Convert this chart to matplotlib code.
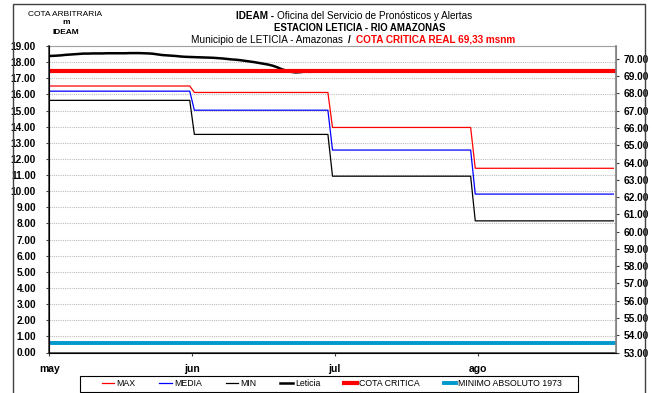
import numpy as np
import matplotlib
matplotlib.use("Agg")
import matplotlib.pyplot as plt
from matplotlib.patches import Rectangle

NARROW = ["Liberation Sans Narrow", "Liberation Sans", "DejaVu Sans"]
plt.rcParams["font.family"] = ["Liberation Sans", "DejaVu Sans"]

# monthly reference levels (may, jun, jul, ago), cota arbitraria
month_days = [31, 30, 31, 31]
month_labels = ["may", "jun", "jul", "ago"]
nivel_max = [16.52, 16.12, 13.95, 11.42]
nivel_media = [16.20, 15.02, 12.55, 9.82]
nivel_min = [15.63, 13.52, 10.93, 8.16]

# daily levels observed at Leticia from 1 May
leticia = [18.38, 18.40, 18.42, 18.45, 18.47, 18.49, 18.51, 18.53, 18.53, 18.54,
           18.54, 18.54, 18.55, 18.55, 18.55, 18.55, 18.55, 18.56, 18.56, 18.56,
           18.55, 18.54, 18.52, 18.48, 18.44, 18.42, 18.40, 18.38, 18.35, 18.33,
           18.32, 18.31, 18.30, 18.29, 18.28, 18.27, 18.25, 18.23, 18.20, 18.17,
           18.15, 18.12, 18.08, 18.04, 18.00, 17.95, 17.90, 17.85, 17.78, 17.68,
           17.56, 17.47, 17.40, 17.36, 17.38, 17.41, 17.40]

cota_critica = 69.33      # msnm, right axis
minimo_1973 = 0.60        # cota arbitraria

n_days = sum(month_days)
# each day drawn at its midpoint, first point pinned to the axis
dias = np.arange(n_days) + 0.5
dias[0] = 0
tick_pos = [0, 31, 62, 93]

fig = plt.figure(figsize=(6.53, 3.93), dpi=100)
ax = fig.add_axes([49.3 / 653, 1 - 352.5 / 393, (615.7 - 49.3) / 653, (352.5 - 46) / 393])
ax2 = ax.twinx()

ax.plot(dias, np.repeat(nivel_max, month_days), color="#ff0000", lw=0.9, label="MAX")
ax.plot(dias, np.repeat(nivel_media, month_days), color="#0000ff", lw=0.9, label="MEDIA")
ax.plot(dias, np.repeat(nivel_min, month_days), color="black", lw=0.9, label="MIN")
ax.plot(dias[:len(leticia)], leticia, color="black", lw=1.8, label="Leticia")
ax2.plot([0, n_days], [cota_critica, cota_critica], color="#ff0000", lw=3.0, label="COTA CRITICA")
ax.plot([0, n_days], [minimo_1973, minimo_1973], color="#0099cc", lw=2.8,
        label="MINIMO ABSOLUTO 1973")

ax.set_xlim(0, 123)
ax.set_ylim(0, 19)
ax2.set_ylim(53, 70.75)
ax.set_yticks(np.arange(0, 20, 1))
ax.set_yticklabels([f"{v:.2f}" for v in range(20)])
ax2.set_yticks(np.arange(53, 71, 1))
ax2.set_yticklabels([f"{v:.2f}" for v in range(53, 71)])
ax.set_xticks(tick_pos)
ax.set_xticklabels(month_labels)

ax.grid(axis="y", color="#bdbdbd", linestyle=(0, (1, 1)), lw=0.8)
for a in (ax, ax2):
    a.tick_params(labelsize=7.3, length=2.5, width=0.8, colors="#404040")
    for lab in a.get_yticklabels() + a.get_xticklabels():
        lab.set_fontweight("bold")
        lab.set_color("black")
ax.tick_params(axis="x", labelsize=7.5, pad=6)
ax.tick_params(axis="y", pad=7)
ax2.tick_params(axis="y", pad=3)
for s in ("top", "right"):
    ax.spines[s].set_color("#a0a0a0")
ax2.spines["top"].set_visible(False)
ax2.spines["right"].set_color("#808080")
ax2.spines["right"].set_linewidth(1.2)
ax.spines["left"].set_color("#404040")
ax.spines["left"].set_linewidth(1.2)
ax.spines["bottom"].set_color("#404040")
ax.spines["bottom"].set_linewidth(1.2)

# outer frame
fig.patches.append(Rectangle((13 / 653, -0.01), (645 - 13) / 653, 1 - 4 / 393 + 0.01,
                             transform=fig.transFigure, fill=False, ec="#404040", lw=1.0))

# left header
fig.text(65 / 653, 1 - 14 / 393, "COTA ARBITRARIA", ha="center", va="center",
         fontsize=6, family=NARROW)
fig.text(66 / 653, 1 - 23 / 393, "m", ha="center", va="center", fontsize=6,
         fontweight="bold", family=NARROW)
fig.text(66 / 653, 1 - 33 / 393, "IDEAM", ha="center", va="center", fontsize=6,
         fontweight="bold", family=NARROW)

fig.canvas.draw()
renderer = fig.canvas.get_renderer()


def line_of_parts(parts, xc, y, size):
    """draw text pieces side by side, centred on xc (pixels)"""
    items = []
    for txt, weight, color in parts:
        t = fig.text(0, 1 - y / 393, txt, ha="left", va="center", fontsize=size,
                     fontweight=weight, color=color, family=NARROW)
        items.append(t)
    widths = [t.get_window_extent(renderer).width for t in items]
    x = xc - sum(widths) / 2
    for t, w in zip(items, widths):
        t.set_x(x / 653)
        x += w


line_of_parts([("IDEAM - ", "bold", "black"),
               ("Oficina del Servicio de Pronósticos y Alertas", "normal", "black")],
              354, 16, 7.2)
line_of_parts([("ESTACION LETICIA - RIO AMAZONAS", "bold", "black")], 360, 28, 6.9)
line_of_parts([("Municipio de LETICIA - Amazonas  ", "normal", "black"),
               ("/  ", "bold", "black"),
               ("COTA CRITICA REAL 69,33 msnm", "bold", "#ff0000")],
              353, 40, 7.2)

# legend below the plot
handles = ax.get_lines()[:4] + ax2.get_lines() + ax.get_lines()[4:]
labels = [h.get_label() for h in handles]
fig.legend(handles, labels, ncol=6, loc="center", bbox_to_anchor=(332 / 653, 1 - 384 / 393),
           frameon=False, prop={"family": NARROW, "size": 6.3}, handlelength=1.4,
           handletextpad=0.3, columnspacing=2.7)
fig.patches.append(Rectangle((80 / 653, 1 - 392 / 393), (578 - 80) / 653, 16 / 393,
                             transform=fig.transFigure, fill=False, ec="black", lw=0.8))

fig.savefig("out.png", dpi=100)
